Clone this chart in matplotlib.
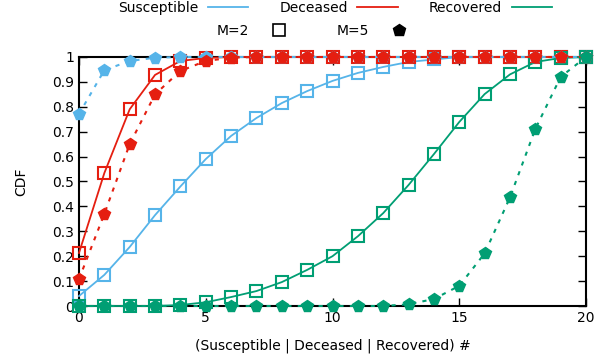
import matplotlib.pyplot as plt
from matplotlib.lines import Line2D

# CDF of compartment counts for M=2 and M=5
steps = list(range(0, 21))

susceptible_m2 = [0.04, 0.125, 0.237, 0.365, 0.48, 0.59, 0.683, 0.755, 0.815, 0.863, 0.904,
                  0.936, 0.96, 0.98, 0.99, 1.0, 1.0, 1.0, 1.0, 1.0, 1.0]
deceased_m2 = [0.213, 0.534, 0.79, 0.928, 0.984, 0.996, 1.0, 1.0, 1.0, 1.0, 1.0,
               1.0, 1.0, 1.0, 1.0, 1.0, 1.0, 1.0, 1.0, 1.0, 1.0]
recovered_m2 = [0.0, 0.0, 0.0, 0.0, 0.004, 0.015, 0.036, 0.06, 0.096, 0.145, 0.2,
                0.28, 0.373, 0.486, 0.61, 0.739, 0.851, 0.93, 0.98, 0.996, 1.0]

susceptible_m5 = [0.771, 0.947, 0.984, 0.997, 1.0, 1.0, 1.0, 1.0, 1.0, 1.0, 1.0,
                  1.0, 1.0, 1.0, 1.0, 1.0, 1.0, 1.0, 1.0, 1.0, 1.0]
deceased_m5 = [0.108, 0.37, 0.65, 0.85, 0.944, 0.984, 0.997, 1.0, 1.0, 1.0, 1.0,
               1.0, 1.0, 1.0, 1.0, 1.0, 1.0, 1.0, 1.0, 1.0, 1.0]
recovered_m5 = [0.0, 0.0, 0.0, 0.0, 0.0, 0.0, 0.0, 0.0, 0.0, 0.0, 0.0,
                0.0, 0.0, 0.007, 0.028, 0.081, 0.211, 0.436, 0.711, 0.92, 1.0]

names = ["Susceptible", "Deceased", "Recovered"]
colors = ["#56b4e9", "#e51e10", "#009e73"]

plt.rcParams["font.family"] = "DejaVu Sans"
plt.rcParams["font.size"] = 10

fig = plt.figure(figsize=(6.1, 3.6), dpi=100)
ax = fig.add_axes([0.1295, 0.15, 0.8312, 0.6917])

for vals, col in zip([susceptible_m2, deceased_m2, recovered_m2], colors):
    ax.plot(steps, vals, color=col, lw=1.3, marker="s", ms=9, mfc="none",
            mec=col, mew=1.5, clip_on=False, zorder=3)
for vals, col in zip([susceptible_m5, deceased_m5, recovered_m5], colors):
    ax.plot(steps, vals, color=col, lw=1.5, ls=(0, (2, 3)), marker="p", ms=8.5,
            mfc=col, mec=col, clip_on=False, zorder=3)

ax.set_xlim(0, 20)
ax.set_ylim(0, 1)
ax.set_xticks([0, 5, 10, 15, 20])
ax.set_yticks([i / 10 for i in range(11)])
ax.set_yticklabels(["0", "0.1", "0.2", "0.3", "0.4", "0.5", "0.6", "0.7", "0.8", "0.9", "1"])
ax.tick_params(direction="in", length=6, width=1, top=True, right=True,
               labelsize=10, colors="black")
for sp in ax.spines.values():
    sp.set_linewidth(1.5)
    sp.set_zorder(2)

ax.set_xlabel("(Susceptible | Deceased | Recovered) #", labelpad=10)
ax.set_ylabel("CDF", labelpad=17)

# key: series colours on top row, marker shapes below
line_handles = [Line2D([], [], color=c, lw=1.3) for c in colors]
fig.legend(line_handles, names, loc="center", bbox_to_anchor=(0.549, 0.978), ncol=3,
           frameon=False, markerfirst=False, handlelength=2.9, handletextpad=0.7,
           columnspacing=2.25, borderaxespad=0, borderpad=0)
marker_handles = [Line2D([], [], ls="none", marker="s", ms=9, mfc="none", mec="black", mew=1.2),
                  Line2D([], [], ls="none", marker="p", ms=9, mfc="black", mec="black")]
fig.legend(marker_handles, ["M=2", "M=5"], loc="center", bbox_to_anchor=(0.5215, 0.914), ncol=2,
           frameon=False, markerfirst=False, handlelength=2.9, handletextpad=0.7,
           columnspacing=2.7, borderaxespad=0, borderpad=0)

fig.savefig("out.png", dpi=100)
